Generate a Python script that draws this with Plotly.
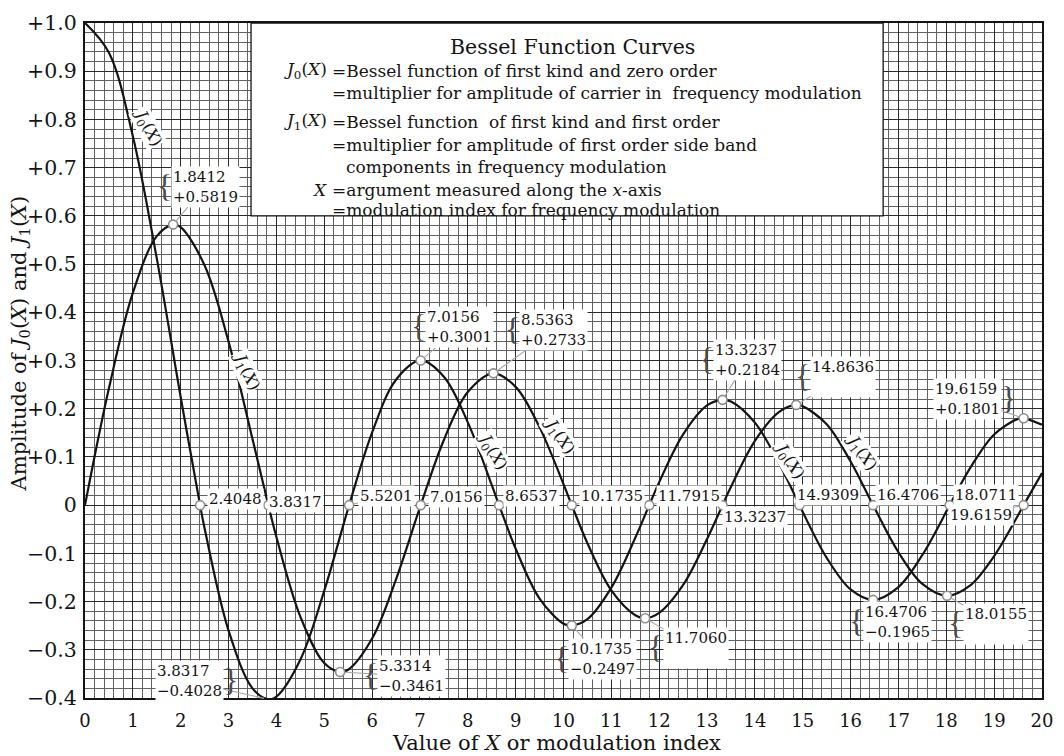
import plotly.graph_objects as go

# ---------------------------------------------------------------
# Tabulated Bessel function values (first kind, orders 0 and 1)
# ---------------------------------------------------------------
x_j0 = [0.0, 0.5, 1.0, 1.5, 2.0, 2.4048, 2.5, 3.0, 3.5, 3.8317,
        4.0, 4.5, 5.0, 5.5201, 6.0, 6.5, 7.0156, 7.5, 8.0, 8.5,
        8.6537, 9.0, 9.5, 10.0, 10.1735, 10.5, 11.0, 11.5, 11.7915, 12.0,
        12.5, 13.0, 13.3237, 13.5, 14.0, 14.5, 14.9309, 15.0, 15.5, 16.0,
        16.4706, 17.0, 17.5, 18.0, 18.0711, 18.5, 19.0, 19.5, 19.6159, 20.0]
j0 = [1.0, 0.9385, 0.7652, 0.5118, 0.2239, 0.0, -0.0484, -0.2601, -0.3801, -0.4028,
      -0.3971, -0.3205, -0.1776, 0.0, 0.1506, 0.2601, 0.3001, 0.2663, 0.1717, 0.0419,
      0.0, -0.0903, -0.1939, -0.2459, -0.2497, -0.2366, -0.1712, -0.0677, 0.0, 0.0477,
      0.1469, 0.2069, 0.2184, 0.2150, 0.1711, 0.0875, 0.0, -0.0142, -0.1092, -0.1749,
      -0.1965, -0.1699, -0.1032, -0.0134, 0.0, 0.0772, 0.1466, 0.1789, 0.1801, 0.1670]

x_j1 = [0.0, 0.5, 1.0, 1.5, 1.8412, 2.0, 2.5, 3.0, 3.5, 3.8317,
        4.0, 4.5, 5.0, 5.3314, 5.5, 6.0, 6.5, 7.0156, 7.5, 8.0,
        8.5363, 9.0, 9.5, 10.0, 10.1735, 10.5, 11.0, 11.5, 11.7060, 12.0,
        12.5, 13.0, 13.3237, 13.5, 14.0, 14.5, 14.8636, 15.0, 15.5, 16.0,
        16.4706, 17.0, 17.5, 18.0155, 18.5, 19.0, 19.5, 19.6159, 20.0]
j1 = [0.0, 0.2423, 0.4401, 0.5579, 0.5819, 0.5767, 0.4971, 0.3391, 0.1374, 0.0,
      -0.0660, -0.2311, -0.3276, -0.3461, -0.3414, -0.2767, -0.1538, 0.0, 0.1352, 0.2346,
      0.2733, 0.2453, 0.1613, 0.0435, 0.0, -0.0789, -0.1768, -0.2284, -0.2346, -0.2234,
      -0.1655, -0.0703, 0.0, 0.0381, 0.1334, 0.1931, 0.2079, 0.2051, 0.1678, 0.0904,
      0.0, -0.0977, -0.1634, -0.1880, -0.1666, -0.1057, -0.0209, 0.0, 0.0668]

# Zeros of J0 and J1 (marked on the axis)
j0_zero_x = [2.4048, 5.5201, 8.6537, 11.7915, 14.9309, 18.0711]
j1_zero_x = [3.8317, 7.0156, 10.1735, 13.3237, 16.4706, 19.6159]

# Maxima / minima of the two curves
ext_x = [1.8412, 3.8317, 5.3314, 7.0156, 8.5363, 10.1735,
         11.7060, 13.3237, 14.8636, 16.4706, 18.0155, 19.6159]
ext_y = [0.5819, -0.4028, -0.3461, 0.3001, 0.2733, -0.2497,
         -0.2346, 0.2184, 0.2079, -0.1965, -0.1880, 0.1801]
ext_value_shown = [True, True, True, True, True, True,
                   False, True, False, True, False, True]

# Axis ticks
x_tick_vals = list(range(0, 21))
y_tick_vals = [1.0, 0.9, 0.8, 0.7, 0.6, 0.5, 0.4, 0.3, 0.2, 0.1,
               0.0, -0.1, -0.2, -0.3, -0.4]
y_tick_text = ["+1.0", "+0.9", "+0.8", "+0.7", "+0.6", "+0.5", "+0.4", "+0.3",
               "+0.2", "+0.1", "0", "\u22120.1", "\u22120.2", "\u22120.3", "\u22120.4"]
Y_MIN, Y_MAX = -0.4, 1.0

# ---------------------------------------------------------------
# Label placement (pixel offsets of each label from its point)
# ---------------------------------------------------------------
j0_zero_offsets = [(35, -6), (37, -9), (32, -9), (40, -9), (29, -10), (36, -10)]
j1_zero_offsets = [(27, -3), (36, -8), (40, -9), (32, 12), (35, -10), (-43, 10)]
ext_offsets = [(32, -38), (-79, -18), (71, 4), (39, -33), (60, -43), (31, 33),
               (51, 30), (25, -40), (47, -28), (24, 22), (49, 28), (-56, -19)]
ext_brace_side = ["l", "r", "l", "l", "l", "l", "l", "l", "l", "l", "l", "r"]

# Plot-area geometry in pixels
L, R, T, B = 85, 1053, 16, 698
W, H = 1064, 756


def px(xp):
    return (xp - L) / (R - L)


def py(yp):
    return (B - yp) / (B - T)


def y_paper(v):
    return (v - Y_MIN) / (Y_MAX - Y_MIN)


SERIF = "DejaVu Serif"
INK = "#141414"

fig = go.Figure()

fig.add_trace(go.Scatter(x=x_j0, y=j0, mode="lines",
                         line=dict(color=INK, width=2.2, shape="spline", smoothing=1.0),
                         hoverinfo="skip"))
fig.add_trace(go.Scatter(x=x_j1, y=j1, mode="lines",
                         line=dict(color=INK, width=2.2, shape="spline", smoothing=1.0),
                         hoverinfo="skip"))

# Small open circles on the marked points
mark_x = j0_zero_x + j1_zero_x + ext_x
mark_y = [0.0] * len(j0_zero_x) + [0.0] * len(j1_zero_x) + ext_y
fig.add_trace(go.Scatter(x=mark_x, y=mark_y, mode="markers", cliponaxis=False,
                         marker=dict(symbol="circle", size=9, color="white",
                                     line=dict(color="#8c8c8c", width=1.6)),
                         hoverinfo="skip"))

annotations = []
label_font = dict(family=SERIF, size=15, color=INK)
BRACE_GAP = 41


def fmt_val(v):
    s = f"{v:+.4f}"
    return s.replace("-", "\u2212")


def point_label(x, y, text, off, brace=None):
    yp = y_paper(y)
    annotations.append(dict(
        x=x, y=yp, xref="x", yref="paper", text=text, showarrow=True,
        ax=off[0], ay=off[1], arrowhead=0, arrowwidth=1.1, arrowcolor="#a8a8a8",
        standoff=4.5, bgcolor="white", borderpad=1, font=label_font, align="left"))
    if brace:
        dx = off[0] - BRACE_GAP if brace == "l" else off[0] + BRACE_GAP
        annotations.append(dict(
            x=x, y=yp, xref="x", yref="paper", text="{" if brace == "l" else "}",
            showarrow=False, xshift=dx, yshift=-off[1] + 1,
            xanchor="center", yanchor="middle",
            font=dict(family="Liberation Serif", size=32, color="#4a4a4a")))


for zx, off in zip(j0_zero_x, j0_zero_offsets):
    point_label(zx, 0.0, f"{zx:.4f}", off)
for zx, off in zip(j1_zero_x, j1_zero_offsets):
    point_label(zx, 0.0, f"{zx:.4f}", off)
for ex, ey, shown, off, side in zip(ext_x, ext_y, ext_value_shown, ext_offsets, ext_brace_side):
    second = fmt_val(ey) if shown else "\u00a0"
    point_label(ex, ey, f"{ex:.4f}<br>{second}", off, brace=side)

# Curve names written along the curves
J0 = "<i>J</i><sub>0</sub>(<i>X</i>)"
J1 = "<i>J</i><sub>1</sub>(<i>X</i>)"
curve_names = [(J0, 148, 122, 62), (J1, 248, 368, 65), (J0, 497, 449, 60),
               (J1, 564, 433, 56), (J0, 797, 458, 58), (J1, 870, 450, 55)]
for txt, xp, yp, ang in curve_names:
    annotations.append(dict(
        x=px(xp), y=py(yp), xref="paper", yref="paper", text=txt, showarrow=False,
        xanchor="center", yanchor="middle",
        textangle=ang, bgcolor="white", borderpad=0,
        font=dict(family=SERIF, size=16, color=INK)))

# Explanatory box text
annotations.append(dict(x=px(578), y=py(40), xref="paper", yref="paper",
                        text="Bessel Function Curves", showarrow=False,
                        xanchor="center", yanchor="middle",
                        font=dict(family=SERIF, size=20.5, color=INK)))
box_rows = [
    (64, J0, "=Bessel function of first kind and zero order", 333),
    (87, None, "=multiplier for amplitude of carrier in  frequency modulation", 333),
    (116, J1, "=Bessel function  of first kind and first order", 333),
    (139, None, "=multiplier for amplitude of first order side band", 333),
    (161, None, "components in frequency modulation", 347),
    (185, "<i>X</i>", "=argument measured along the <i>x</i>-axis", 333),
    (205, None, "=modulation index for frequency modulation", 333),
]
BOX_FONT = dict(family=SERIF, size=17, color=INK)
for yp, sym, txt, xl in box_rows:
    if sym:
        annotations.append(dict(x=px(332), y=py(yp), xref="paper", yref="paper",
                                text=sym, showarrow=False, xanchor="right",
                                yanchor="middle", font=BOX_FONT))
    annotations.append(dict(x=px(xl), y=py(yp), xref="paper", yref="paper",
                            text=txt, showarrow=False, xanchor="left",
                            yanchor="middle", font=BOX_FONT))

# Axis titles
annotations.append(dict(x=px(562), y=py(743), xref="paper", yref="paper",
                        text="Value of <i>X</i> or modulation index", showarrow=False,
                        xanchor="center", yanchor="middle",
                        font=dict(family=SERIF, size=21, color=INK)))
annotations.append(dict(x=px(19), y=py(340), xref="paper", yref="paper",
                        text="Amplitude of " + J0 + " and " + J1, showarrow=False,
                        xanchor="center", yanchor="middle",
                        textangle=-90, font=dict(family=SERIF, size=21, color=INK)))

fig.update_layout(
    width=W, height=H,
    margin=dict(l=L, r=W - R, t=T, b=H - B),
    paper_bgcolor="white", plot_bgcolor="white",
    showlegend=False,
    font=dict(family=SERIF, color=INK),
    annotations=annotations,
    shapes=[dict(type="rect", xref="x", yref="y", x0=3.47, x1=16.68, y0=0.6, y1=1.0,
                 fillcolor="white", line=dict(color=INK, width=1.3), layer="above")],
)

fig.update_xaxes(
    range=[0, 20], tickmode="array", tickvals=x_tick_vals,
    tickfont=dict(family=SERIF, size=18, color=INK), ticks="",
    ticklabelstandoff=5, ticklabeloverflow="allow",
    showgrid=True, gridcolor="#2a2a2a", gridwidth=1.3,
    minor=dict(tick0=0, dtick=0.2, showgrid=True, gridcolor="#606060", gridwidth=0.9),
    showline=True, linecolor=INK, linewidth=2, mirror=True, zeroline=False,
)
fig.update_yaxes(
    range=[Y_MIN, Y_MAX], tickmode="array", tickvals=y_tick_vals, ticktext=y_tick_text,
    tickfont=dict(family=SERIF, size=20.5, color=INK), ticks="", ticklen=1,
    ticklabelstandoff=2, ticklabeloverflow="allow",
    showgrid=True, gridcolor="#2a2a2a", gridwidth=1.3,
    minor=dict(tick0=0, dtick=0.02, showgrid=True, gridcolor="#606060", gridwidth=0.9),
    showline=True, linecolor=INK, linewidth=2, mirror=True, zeroline=False,
)

fig.write_html("out.html")
